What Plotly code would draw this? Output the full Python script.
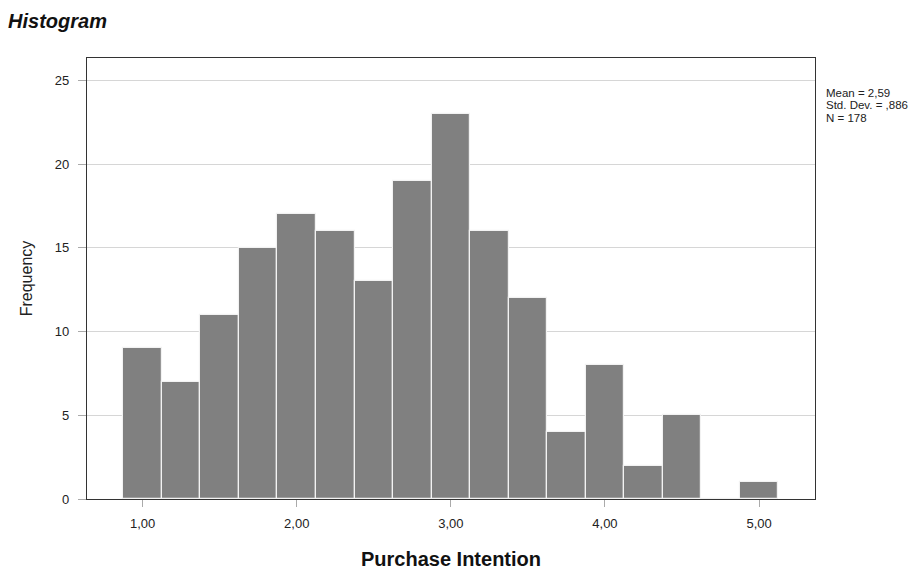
import plotly.graph_objects as go

bin_centers = [1.00, 1.25, 1.50, 1.75, 2.00, 2.25, 2.50, 2.75, 3.00, 3.25, 3.50, 3.75, 4.00, 4.25, 4.50, 4.75, 5.00]
frequencies = [9, 7, 11, 15, 17, 16, 13, 19, 23, 16, 12, 4, 8, 2, 5, 0, 1]
x_tick_vals = [1, 2, 3, 4, 5]
x_tick_text = ["1,00", "2,00", "3,00", "4,00", "5,00"]
y_tick_vals = [0, 5, 10, 15, 20, 25]
stats_lines = ["Mean = 2,59", "Std. Dev. = ,886", "N = 178"]

ARIAL = "Liberation Sans, Arial, sans-serif"

fig = go.Figure()
fig.add_trace(go.Bar(
    x=bin_centers, y=frequencies, width=0.25,
    marker=dict(color="#808080", line=dict(color="#f2f2f2", width=1.2)),
    showlegend=False, hoverinfo="x+y",
))

fig.update_layout(
    width=924, height=570,
    margin=dict(l=87, r=109, t=58, b=71),
    paper_bgcolor="white", plot_bgcolor="white",
    font=dict(family=ARIAL, color="#222222"),
    bargap=0,
    title=dict(text="<b><i>Histogram</i></b>", x=0.0087, xanchor="left", y=0.963, yanchor="middle",
               font=dict(size=20, family=ARIAL, color="#111111")),
    xaxis=dict(range=[0.639, 5.363], tickvals=x_tick_vals, ticktext=x_tick_text,
               showgrid=False, zeroline=False, ticks="outside", ticklen=7, tickcolor="#aaaaaa",
               ticklabelstandoff=5, automargin=False,
               tickfont=dict(size=13, color="#222222"),
               showline=True, linecolor="#333333", linewidth=1.3, mirror=True,
               title=dict(text="<b>Purchase Intention</b>", font=dict(size=20, family=ARIAL, color="#111111"),
                          standoff=22)),
    yaxis=dict(range=[0, 26.33], tickvals=y_tick_vals,
               showgrid=True, gridcolor="#d6d6d6", gridwidth=1.2, zeroline=False,
               ticks="outside", ticklen=8, tickcolor="#aaaaaa",
               ticklabelstandoff=6, automargin=False,
               tickfont=dict(size=13, color="#222222"),
               showline=True, linecolor="#333333", linewidth=1.3, mirror=True,
               title=dict(text="Frequency", font=dict(size=16, color="#222222"), standoff=18)),
)

line_shifts = [-35.0, -47.4, -59.8]
for line, dy in zip(stats_lines, line_shifts):
    fig.add_annotation(xref="paper", yref="paper", x=1, y=1, xshift=9, yshift=dy,
                       xanchor="left", yanchor="middle",
                       text=line, showarrow=False, align="left",
                       font=dict(size=11.5, family=ARIAL, color="#222222"))

fig.write_html("out.html", config={"displayModeBar": False},
               post_script="document.body.style.margin='0';")
